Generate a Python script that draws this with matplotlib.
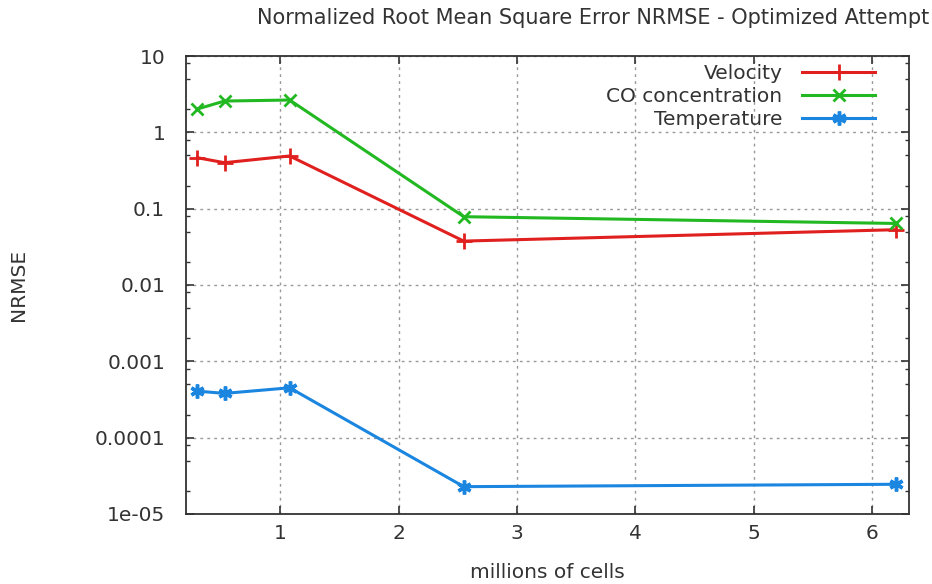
import matplotlib
matplotlib.use("Agg")
import matplotlib.pyplot as plt
from matplotlib.ticker import FixedLocator, LogLocator, NullFormatter

# Mesh sizes (millions of cells)
cells = [0.30, 0.53, 1.08, 2.55, 6.20]

# NRMSE per field
velocity = [0.465, 0.40, 0.49, 0.0376, 0.053]
co_conc = [2.02, 2.57, 2.65, 0.0785, 0.064]
temperature = [4.07e-4, 3.8e-4, 4.5e-4, 2.28e-5, 2.45e-5]

x_ticks = [1, 2, 3, 4, 5, 6]
y_ticks = [1e-5, 1e-4, 1e-3, 1e-2, 1e-1, 1, 10]
y_tick_labels = ["1e-05", "0.0001", "0.001", "0.01", "0.1", "1", "10"]

plt.rcParams["font.family"] = ["DejaVu Sans"]
TXT = "#333333"
FS = 14.5

fig = plt.figure(figsize=(9.32, 5.84), dpi=100)
ax = fig.add_axes([0.1996, 0.1199, 0.7757, 0.7842])

ax.plot(cells, velocity, color="#e0201e", lw=2.2, marker="+", ms=11, mew=2,
        label="Velocity")
ax.plot(cells, co_conc, color="#22b822", lw=2.2, marker="x", ms=9, mew=2,
        label="CO concentration")
ax.plot(cells, temperature, color="#1a86e0", lw=2.2, marker=(6, 2, 0), ms=10,
        mew=2.5, label="Temperature")

ax.set_yscale("log")
ax.set_xlim(0.205, 6.31)
ax.set_ylim(1e-5, 10)

ax.xaxis.set_major_locator(FixedLocator(x_ticks))
ax.set_xticklabels([str(t) for t in x_ticks])
ax.yaxis.set_major_locator(FixedLocator(y_ticks))
ax.set_yticklabels(y_tick_labels)
ax.yaxis.set_minor_locator(LogLocator(base=10, subs=(2, 5, 8)))
ax.yaxis.set_minor_formatter(NullFormatter())

ax.tick_params(which="both", direction="in", top=True, right=True,
               labelsize=FS, colors=TXT)
ax.tick_params(axis="y", pad=15)
ax.tick_params(axis="x", pad=7)
ax.tick_params(which="major", length=6, width=1.2)
ax.tick_params(which="minor", length=3, width=1)
for s in ax.spines.values():
    s.set_linewidth(1.3)
    s.set_color("#333333")

ax.grid(True, which="major", linestyle=(0, (2, 3)), color="#999999", lw=1)

ax.set_xlabel("millions of cells", fontsize=FS, color=TXT)
ax.xaxis.set_label_coords(0.5, -0.108)
ax.set_ylabel("NRMSE", fontsize=FS, color=TXT)
ax.yaxis.set_label_coords(-0.218, 0.5)

fig.text(593 / 932, 1 - 18 / 584,
         "Normalized Root Mean Square Error NRMSE - Optimized Attempt",
         ha="center", va="center", fontsize=15, color=TXT)

leg = ax.legend(loc="upper right", bbox_to_anchor=(0.964, 1.001),
                markerfirst=False, frameon=False, fontsize=FS,
                handlelength=3.6, labelspacing=0.2, borderaxespad=0,
                handletextpad=1.0)
for t in leg.get_texts():
    t.set_color(TXT)

fig.savefig("out.png", dpi=100)
